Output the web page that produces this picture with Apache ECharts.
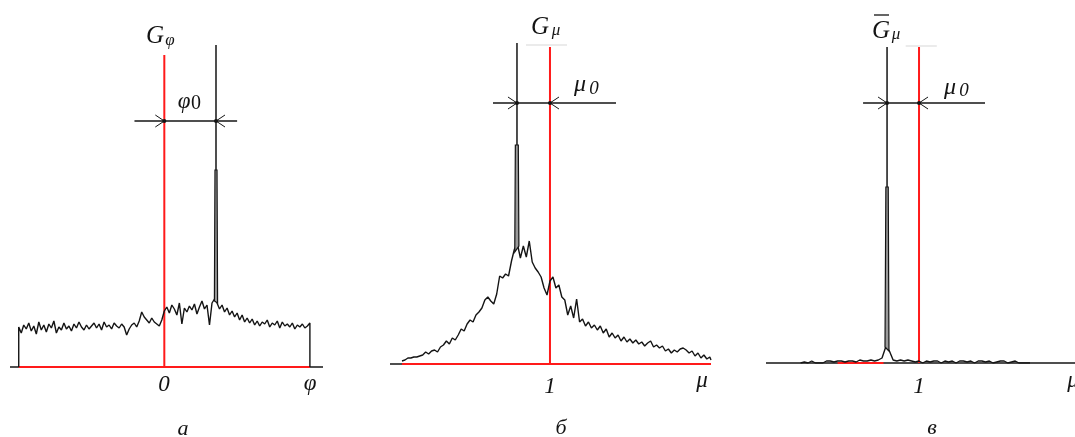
<!DOCTYPE html>
<html>
<head>
<meta charset="utf-8">
<script src="https://cdn.jsdelivr.net/npm/echarts@6/dist/echarts.min.js"></script>
<style>
  html, body { margin: 0; background: #fff; }
  #chart { width: 1075px; height: 437px; }
</style>
</head>
<body>
<div id="chart"></div>
<script>
// panel а : G(phi), noise sampled on phi = -1 .. 1
var aNoise = [
  40,34,42,38,44,36,41,33,45,37,42,35,43,39,46,34,40,37,44,38,41,36,43,39,45,40,37,42,38,
  41,44,39,43,37,45,40,42,38,44,41,39,43,40,32,38,42,44,40,46,55,50,47,44,49,45,43,41,47,
  56,60,54,62,58,52,64,43,59,55,61,57,63,53,60,66,58,62,42,64,68,
  64,58,62,55,59,52,56,50,54,47,52,45,49,44,48,42,46,41,45,43,47,40,44,42,46,39,45,41,43,40,44,38,42,40,43,39,41,44
];
var aPeak = [[0.344, 66], [0.348, 197], [0.362, 197], [0.366, 64]];
// [redX, redTop, spikeX, spikeTop, markTop, dimY, dimL, dimR, blackFrom, blackTo, redFrom, redTo]
var aMarks = [0, 312, 0.355, 197, 322, 246, -0.205, 0.5, -1.06, 1.09, -1, 1];

// panel б : G(mu), mu = 0 .. 2.08
var bNoise = [
  3,4,6,6,7,7,8,9,12,10,
  13,14,12,17,19,23,20,26,24,29,
  35,33,40,44,42,49,52,56,64,67,
  63,60,70,88,86,90,88,103,115,120,
  106,118,107,123,102,96,92,87,76,69,
  83,87,76,79,67,64,49,58,46,65,
  42,45,38,42,36,39,34,38,31,35,
  27,31,26,29,23,27,22,25,21,24,
  20,22,18,21,23,17,19,16,18,13,
  15,11,14,12,15,16,14,11,13,8,
  11,6,9,5,7
];
var bPeak = [[0.762, 112], [0.766, 219], [0.786, 219], [0.79, 118]];
var bMarks = [1, 317, 0.777, 219, 321, 261, 0.615, 1.446, -0.081, 2.088, 0, 2.088];
var bFaint = [[0.838, 319], [1.115, 319]];

// panel в : averaged G(mu), mu = 0.2 .. 1.75
var cNoise = [
  0,1,0,2,0,0,0,2,2,1,
  2,2,1,2,2,1,3,2,2,3,
  2,3,5,16,12,3,2,3,2,3,
  2,1,2,
  0,2,1,2,2,0,2,1,2,0,2,2,1,2,0,2,2,1,2,0,1,2,2,0,1,2,0,0,0,0
];
var cPeak = [[0.77, 16], [0.776, 176], [0.792, 176], [0.797, 12]];
var cMarks = [1, 316, 0.784, 176, 316, 260, 0.622, 1.446, -0.034, 2.054, 0.45, 0.76];
var cFaint = [[0.91, 317], [1.12, 317]];

var INK = "#141414";
var RED = "#ff1a1a";

function grid(x0, step, vals) {
  return vals.map(function (v, i) { return [x0 + i * step, v]; });
}

var aLine = [[-1, 0]].concat(grid(-1, 2 / (aNoise.length - 1), aNoise), [[1, 0]]);
var bLine = grid(0, 0.02, bNoise).concat([[2.088, 4]]);
var cLine = grid(0.2, 0.025, cNoise);

function renderMarks(params, api) {
  var v = function (k) { return api.value(k); };
  var c = function (x, y) { return api.coord([x, y]); };
  var seg = function (p, q, color, w) {
    return { type: "line", shape: { x1: p[0], y1: p[1], x2: q[0], y2: q[1] },
      style: { stroke: color, lineWidth: w } };
  };
  var L = Math.min(v(0), v(2)), R = Math.max(v(0), v(2));
  var p = c(L, v(5)), q = c(R, v(5));
  return {
    type: "group",
    children: [
      seg(c(v(8), 0), c(v(9), 0), INK, 1.5),
      seg(c(v(10), 0), c(v(11), 0), RED, 2),
      seg(c(v(0), 0), c(v(0), v(1)), RED, 2),
      seg(c(v(2), v(3)), c(v(2), v(4)), INK, 1.5),
      seg(c(v(6), v(5)), c(v(7), v(5)), INK, 1.5),
      { type: "polyline", shape: { points: [[p[0] - 9, p[1] - 6], p, [p[0] - 9, p[1] + 6]] },
        style: { stroke: INK, lineWidth: 1, fill: null } },
      { type: "polyline", shape: { points: [[q[0] + 9, q[1] - 6], q, [q[0] + 9, q[1] + 6]] },
        style: { stroke: INK, lineWidth: 1, fill: null } },
      { type: "circle", shape: { cx: p[0], cy: p[1], r: 2 }, style: { fill: INK } },
      { type: "circle", shape: { cx: q[0], cy: q[1], r: 2 }, style: { fill: INK } }
    ]
  };
}

function renderPeak(params, api) {
  var pts = [];
  for (var k = 0; k < 4; k++) pts.push(api.coord([api.value(2 * k), api.value(2 * k + 1)]));
  return { type: "polygon", shape: { points: pts },
    style: { fill: "#9a9a9a", stroke: INK, lineWidth: 1.2 } };
}

function marks(i, item) {
  return { type: "custom", xAxisIndex: i, yAxisIndex: i, clip: false, z: 1,
    renderItem: renderMarks, data: [item], silent: true };
}
function noise(i, data) {
  return { type: "line", xAxisIndex: i, yAxisIndex: i, data: data, symbol: "none", z: 3,
    lineStyle: { color: INK, width: 1.4 }, silent: true };
}
function peak(i, pts) {
  return { type: "custom", xAxisIndex: i, yAxisIndex: i, clip: false, z: 4,
    renderItem: renderPeak, data: [[].concat.apply([], pts)], silent: true };
}
function faint(i, data) {
  return { type: "line", xAxisIndex: i, yAxisIndex: i, data: data, symbol: "none", z: 0,
    lineStyle: { color: "#e4e4e4", width: 1.5 }, silent: true };
}

function txt(s, x, y, size, italic) {
  return { type: "text", x: x, y: y, z: 10,
    style: { text: s, font: (italic === false ? "" : "italic ") + size + 'px "Liberation Serif"',
      fill: INK, textAlign: "center", textVerticalAlign: "middle" } };
}

var chart = echarts.init(document.getElementById("chart"));
chart.setOption({
  animation: false,
  backgroundColor: "#fff",
  grid: [
    { left: 10, top: 45, width: 313, height: 322 },
    { left: 390, top: 43, width: 321, height: 321 },
    { left: 766, top: 43, width: 309, height: 320 }
  ],
  xAxis: [
    { type: "value", gridIndex: 0, min: -1.06, max: 1.09, show: false },
    { type: "value", gridIndex: 1, min: -0.081, max: 2.088, show: false },
    { type: "value", gridIndex: 2, min: -0.034, max: 2.054, show: false }
  ],
  yAxis: [
    { type: "value", gridIndex: 0, min: 0, max: 322, show: false },
    { type: "value", gridIndex: 1, min: 0, max: 321, show: false },
    { type: "value", gridIndex: 2, min: 0, max: 320, show: false }
  ],
  series: [
    marks(0, aMarks), noise(0, aLine), peak(0, aPeak),
    marks(1, bMarks), noise(1, bLine), peak(1, bPeak), faint(1, bFaint),
    marks(2, cMarks), noise(2, cLine), peak(2, cPeak), faint(2, cFaint)
  ],
  graphic: [
    // а
    txt("G", 155, 36, 25), txt("φ", 170, 41, 17),
    txt("φ", 184, 102, 23), txt("0", 196, 104, 20, false),
    txt("0", 164, 385, 23), txt("φ", 310, 384, 23),
    txt("а", 183, 429, 22),
    // б
    txt("G", 540, 27, 25), txt("μ", 556, 31, 17),
    txt("μ", 580, 85, 24), txt("0", 594, 89, 19),
    txt("1", 550, 387, 23), txt("μ", 702, 381, 23),
    txt("б", 561, 428, 22),
    // в
    txt("G", 881, 31, 25), txt("μ", 896, 35, 17),
    { type: "line", z: 10, shape: { x1: 874, y1: 15, x2: 889, y2: 15 }, style: { stroke: INK, lineWidth: 1.3 } },
    txt("μ", 950, 88, 24), txt("0", 964, 91, 19),
    txt("1", 919, 387, 23), txt("μ", 1073, 381, 23),
    txt("в", 932, 428, 22)
  ]
});
</script>
</body>
</html>
